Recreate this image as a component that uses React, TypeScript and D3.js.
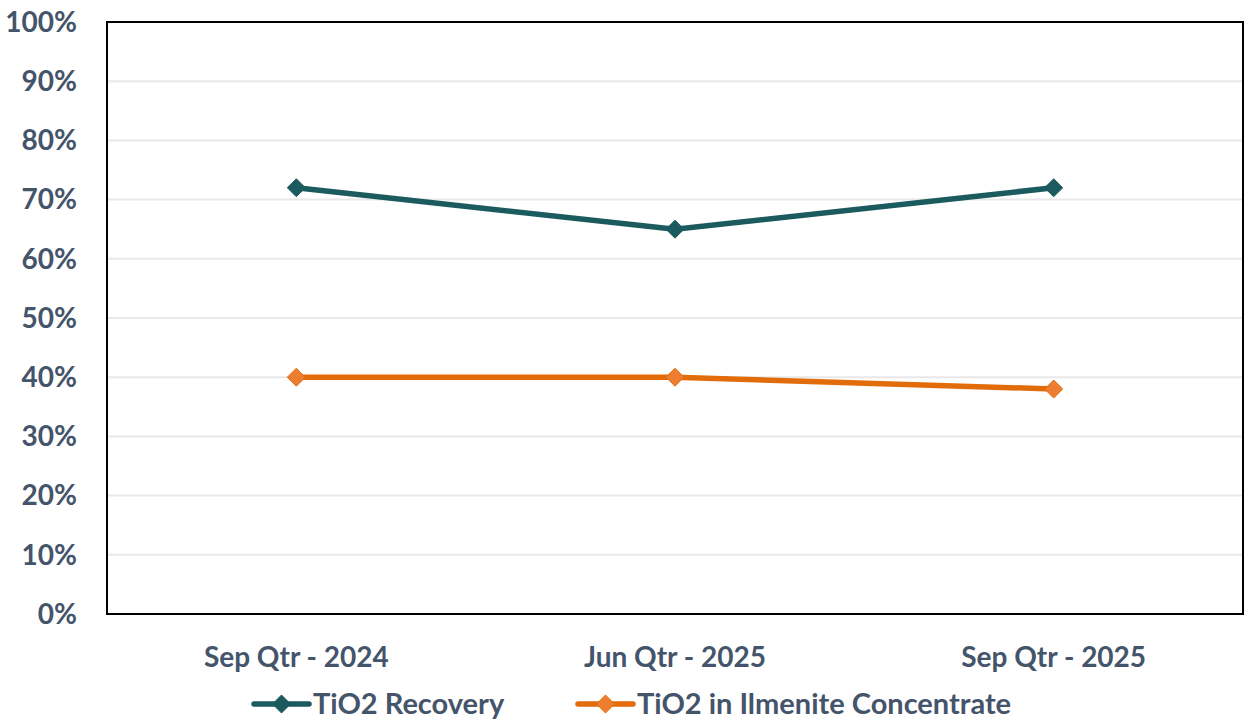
import * as d3 from 'd3'

const categories = ['Sep Qtr - 2024', 'Jun Qtr - 2025', 'Sep Qtr - 2025']
const recovery = [0.72, 0.65, 0.72]
const ilmenite = [0.4, 0.4, 0.38]
const yTicks = [0, 0.1, 0.2, 0.3, 0.4, 0.5, 0.6, 0.7, 0.8, 0.9, 1]

const W = 1244
const H = 720
const M = { left: 107, top: 22, right: 1243, bottom: 614 }
const FONT = 'Lato, "Open Sans", sans-serif'
const TEXT = '#44546A'

const series = [
  { name: 'TiO2 Recovery', values: recovery, stroke: '#1B5A5E', fill: '#1B5A5E', legendX: 254 },
  { name: 'TiO2 in Ilmenite Concentrate', values: ilmenite, stroke: '#E36C0A', fill: '#ED7D31', legendX: 578 },
]

function Diamond({ x, y, fill, stroke }: { x: number; y: number; fill: string; stroke: string }) {
  const s = 9
  return (
    <path
      d={`M${x},${y - s} L${x + s},${y} L${x},${y + s} L${x - s},${y} Z`}
      fill={fill}
      stroke={stroke}
      strokeWidth={1}
    />
  )
}

export default function App() {
  const x = d3.scaleBand<string>().domain(categories).range([M.left, M.right])
  const y = d3.scaleLinear().domain([0, 1]).range([M.bottom, M.top])
  const fmt = d3.format('.0%')
  const line = d3
    .line<number>()
    .x((_, i) => (x(categories[i]) ?? 0) + x.bandwidth() / 2)
    .y((d) => y(d))

  return (
    <svg
      width={W}
      height={H}
      style={{ position: 'absolute', left: 0, top: 0, background: '#fff' }}
      fontFamily={FONT}
    >
      {yTicks.slice(1, -1).map((t) => (
        <line key={t} x1={M.left} x2={M.right} y1={y(t)} y2={y(t)} stroke="#E8E8E8" strokeWidth={2} />
      ))}
      <rect
        x={M.left}
        y={M.top}
        width={M.right - M.left}
        height={M.bottom - M.top}
        fill="none"
        stroke="#000"
        strokeWidth={2}
      />
      {yTicks.map((t) => (
        <text
          key={t}
          x={77}
          y={y(t)}
          dy="0.35em"
          textAnchor="end"
          fontSize={28}
          fontWeight={700}
          fill={TEXT}
        >
          {fmt(t)}
        </text>
      ))}
      {categories.map((c) => (
        <text
          key={c}
          x={(x(c) ?? 0) + x.bandwidth() / 2}
          y={657}
          dy="0.35em"
          textAnchor="middle"
          fontSize={28}
          fontWeight={700}
          fill={TEXT}
        >
          {c}
        </text>
      ))}
      {series.map((s) => (
        <g key={s.name}>
          <path d={line(s.values) ?? ''} fill="none" stroke={s.stroke} strokeWidth={5.5} strokeLinejoin="round" />
          {s.values.map((v, i) => (
            <Diamond
              key={i}
              x={(x(categories[i]) ?? 0) + x.bandwidth() / 2}
              y={y(v)}
              fill={s.fill}
              stroke={s.stroke}
            />
          ))}
        </g>
      ))}
      {series.map((s) => (
        <g key={'lg' + s.name}>
          <line
            x1={s.legendX}
            x2={s.legendX + 55}
            y1={704}
            y2={704}
            stroke={s.stroke}
            strokeWidth={5.5}
            strokeLinecap="round"
          />
          <Diamond x={s.legendX + 27.5} y={704} fill={s.fill} stroke={s.stroke} />
          <text x={s.legendX + 59} y={704} dy="0.35em" fontSize={29} fontWeight={700} fill={TEXT}>
            {s.name}
          </text>
        </g>
      ))}
    </svg>
  )
}
